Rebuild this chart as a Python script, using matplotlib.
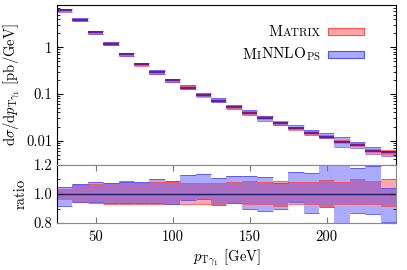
import numpy as np
import matplotlib
matplotlib.use("Agg")
import matplotlib.pyplot as plt
from matplotlib.ticker import FixedLocator, FixedFormatter, LogLocator, NullFormatter
from matplotlib.offsetbox import TextArea, HPacker, VPacker, DrawingArea, AnchoredOffsetbox
from matplotlib.patches import Rectangle

plt.rcParams['font.family'] = 'cmr10'
plt.rcParams['mathtext.fontset'] = 'cm'
plt.rcParams['axes.formatter.use_mathtext'] = True

#---------------------------
# DATA
#---------------------------
bin_edges = [25, 35, 45, 55, 65, 75, 85, 95, 105, 115, 125, 135,
             145, 155, 165, 175, 185, 195, 205, 215, 225, 235, 245]
central = [6.25, 3.88, 2.08, 1.18, 0.70, 0.435, 0.29, 0.195, 0.134, 0.094, 0.072,
           0.052, 0.0394, 0.0304, 0.0238, 0.0184, 0.0148, 0.0122, 0.0095, 0.0081,
           0.0061, 0.0057]
matrix_hi = [1.034, 1.062, 1.066, 1.075, 1.087, 1.075, 1.085, 1.08, 1.078, 1.075, 1.073,
             1.082, 1.087, 1.085, 1.091, 1.082, 1.082, 1.096, 1.082, 1.10, 1.089, 1.103]
matrix_lo = [0.964, 0.948, 0.936, 0.934, 0.93, 0.932, 0.932, 0.934, 0.933, 0.933, 0.929,
             0.941, 0.929, 0.932, 0.916, 0.929, 0.929, 0.92, 0.929, 0.929, 0.929, 0.918]
minnlo_hi = [1.05, 1.069, 1.08, 1.078, 1.083, 1.08, 1.105, 1.09, 1.132, 1.137, 1.11,
             1.123, 1.123, 1.114, 1.075, 1.153, 1.142, 1.199, 1.25, 1.176, 1.194, 1.039]
minnlo_lo = [0.916, 0.943, 0.945, 0.936, 0.941, 0.941, 0.936, 0.93, 0.958, 0.964, 0.922,
             0.936, 0.895, 0.883, 0.90, 0.947, 0.868, 0.909, 0.76, 0.872, 0.861, 0.808]

RED_FILL = (1.0, 0.0, 0.0, 0.35)
BLUE_FILL = (0.0, 0.0, 1.0, 0.33)
RED_EDGE = '#ff5050'
BLUE_EDGE = '#5050ff'
FS = 10.5

edges = np.array(bin_edges, dtype=float)
cen = np.array(central)
lefts, rights = edges[:-1], edges[1:]

fig = plt.figure(figsize=(4.07, 2.70), dpi=100)
ax0 = fig.add_axes([0.140, 0.389, 0.833, 0.592])
ax1 = fig.add_axes([0.140, 0.174, 0.833, 0.215], sharex=ax0)

# top panel: bands
for lo, hi, fc, ec in [(matrix_lo, matrix_hi, RED_FILL, RED_EDGE),
                       (minnlo_lo, minnlo_hi, BLUE_FILL, BLUE_EDGE)]:
    lo_v = cen * np.array(lo)
    hi_v = cen * np.array(hi)
    ax0.stairs(hi_v, edges, baseline=lo_v, fill=True, color=fc, lw=0)
    ax0.hlines(hi_v, lefts, rights, color=ec, lw=0.5)
    ax0.hlines(lo_v, lefts, rights, color=ec, lw=0.5)
ax0.hlines(cen, lefts, rights, color='#c00040', lw=1.1)
ax0.hlines(cen, lefts, rights, color='#3020c0', lw=1.1, alpha=0.7)

ax0.set_yscale('log')
ax0.set_ylim(0.003, 8)
ax0.set_xlim(25, 245)
ax0.yaxis.set_major_locator(FixedLocator([0.01, 0.1, 1]))
ax0.yaxis.set_major_formatter(FixedFormatter(['0.01', '0.1', '1']))
ax0.yaxis.set_minor_locator(LogLocator(base=10, subs=np.arange(2, 10)))
ax0.yaxis.set_minor_formatter(NullFormatter())
ax0.tick_params(axis='y', which='both', direction='in', left=True, right=True, labelsize=FS)
ax0.tick_params(axis='y', which='major', length=4)
ax0.tick_params(axis='y', which='minor', length=2)
ax0.tick_params(axis='x', which='both', bottom=False, labelbottom=False)
ax0.spines['bottom'].set_color('#888888')
ax0.set_ylabel(r'$\mathrm{d}\sigma/\mathrm{d}p_{\mathrm{T}\gamma_1}$ [pb/GeV]', fontsize=FS, labelpad=3)

# legend in small caps
big = dict(size=11, color='black', family='cmr10')
small = dict(size=8.3, color='black', family='cmr10')

def swatch(fc, ec):
    da = DrawingArea(26, 5)
    da.add_artist(Rectangle((0, 0), 26, 5, fc=fc, ec=ec, lw=0.8))
    return da

row1 = HPacker(children=[
    HPacker(children=[TextArea('M', textprops=big), TextArea('ATRIX', textprops=small)],
            align='baseline', pad=0, sep=0.3),
    swatch(RED_FILL, RED_EDGE)], align='center', pad=0, sep=5)
row2 = HPacker(children=[
    HPacker(children=[TextArea('M', textprops=big), TextArea('I', textprops=small),
                      TextArea(r'NNLO$_{\mathrm{PS}}$', textprops=big)],
            align='baseline', pad=0, sep=0.3),
    swatch(BLUE_FILL, BLUE_EDGE)], align='center', pad=0, sep=5)
legbox = VPacker(children=[row1, row2], align='right', pad=0, sep=5)
anch = AnchoredOffsetbox(loc='upper right', child=legbox, pad=0, borderpad=0,
                         bbox_to_anchor=(0.906, 0.875), bbox_transform=ax0.transAxes,
                         frameon=False)
ax0.add_artist(anch)

# ratio panel
for lo, hi, fc, ec in [(matrix_lo, matrix_hi, RED_FILL, RED_EDGE),
                       (minnlo_lo, minnlo_hi, BLUE_FILL, BLUE_EDGE)]:
    ax1.stairs(hi, edges, baseline=lo, fill=True, color=fc, lw=0)
    ax1.hlines(hi, lefts, rights, color=ec, lw=0.6)
    ax1.hlines(lo, lefts, rights, color=ec, lw=0.6)
ax1.axhline(1.0, color='#1a1a60', lw=1.0)

ax1.set_ylim(0.8, 1.2)
ax1.yaxis.set_major_locator(FixedLocator([0.8, 1.0, 1.2]))
ax1.yaxis.set_major_formatter(FixedFormatter(['0.8', '1.0', '1.2']))
ax1.yaxis.set_minor_locator(FixedLocator([0.9, 1.1]))
ax1.xaxis.set_major_locator(FixedLocator([50, 100, 150, 200]))
ax1.xaxis.set_major_formatter(FixedFormatter(['50', '100', '150', '200']))
ax1.tick_params(axis='y', which='both', direction='in', left=True, right=True, labelsize=FS)
ax1.tick_params(axis='y', which='major', length=4)
ax1.tick_params(axis='y', which='minor', length=2)
ax1.tick_params(axis='x', which='major', direction='in', top=True, bottom=True,
                length=4, color='#777777', labelsize=FS, pad=5)
for s in ['bottom', 'top', 'right']:
    ax1.spines[s].set_color('#888888')
ax1.set_ylabel('ratio', fontsize=FS, labelpad=4)
ax1.set_xlabel(r'$p_{\mathrm{T}\gamma_1}$ [GeV]', fontsize=FS, labelpad=3)

fig.savefig('out.png', dpi=100)
